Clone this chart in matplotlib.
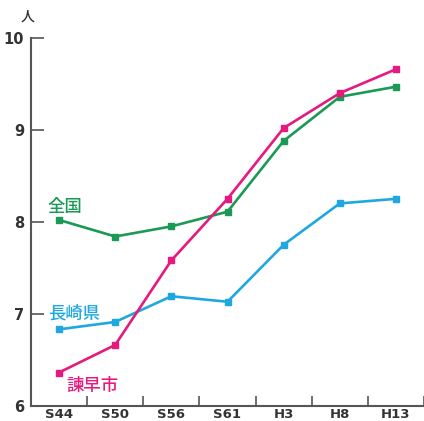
"""
Chart: 人 per household style line chart (全国 / 長崎県 / 諫早市)
"""

###############################################################################
# Libraries
import numpy as np
import matplotlib.pyplot as plt

plt.rcParams['font.family'] = ['Noto Sans CJK JP', 'DejaVu Sans']

####################################
# Data
years = ['S44', 'S50', 'S56', 'S61', 'H3', 'H8', 'H13']
zenkoku = [8.02, 7.84, 7.95, 8.11, 8.88, 9.36, 9.47]
nagasaki = [6.83, 6.91, 7.19, 7.13, 7.75, 8.20, 8.25]
isahaya = [6.36, 6.66, 7.58, 8.25, 9.02, 9.40, 9.66]

####################################
# Colours
c_green = '#1a9a55'
c_blue = '#1fa8e0'
c_pink = '#e5197e'
c_axis = '#555555'

####################################
# Plot
fig = plt.figure(figsize=(4.24, 4.21), dpi=100)
ax = fig.add_axes([31/424, 15.4/421, 393/424, 367.6/421])

x = np.arange(len(years))
ax.plot(x, zenkoku, '-s', color=c_green, lw=1.9, ms=4.5)
ax.plot(x, nagasaki, '-s', color=c_blue, lw=1.9, ms=4.5)
ax.plot(x, isahaya, '-s', color=c_pink, lw=1.9, ms=4.5)

ax.set_xlim(-0.5, len(years) - 0.5)
ax.set_ylim(6, 10)

ax.set_xticks(x)
ax.set_xticklabels(years, fontsize=9.5, fontweight='bold', color='#333333',
                   family='DejaVu Sans')
ax.set_xticks(np.arange(len(years)) + 0.5, minor=True)
ax.tick_params(axis='x', which='major', length=0, pad=2)
ax.tick_params(axis='x', which='minor', direction='in', length=7,
               width=1.2, color=c_axis)

ax.set_yticks([6, 7, 8, 9, 10])
ax.set_yticklabels(['6', '7', '8', '9', '10'], fontsize=10.5,
                   fontweight='bold', color='#333333', family='DejaVu Sans')
ax.tick_params(axis='y', direction='in', length=9, width=1.2,
               color=c_axis, pad=5)

for s in ['top', 'right']:
    ax.spines[s].set_visible(False)
for s in ['left', 'bottom']:
    ax.spines[s].set_color(c_axis)
    ax.spines[s].set_linewidth(1.5)

####################################
# Labels
ax.text(-0.008, 10.23, '人', fontsize=10, ha='center', va='center',
        fontweight='medium', transform=ax.get_yaxis_transform(), color='#333333')
ax.text(-0.2, 8.06, '全国', fontsize=12.5, fontweight='medium', color=c_green,
        va='bottom', ha='left')
ax.text(-0.2, 6.90, '長崎県', fontsize=12.5, fontweight='medium', color=c_blue,
        va='bottom', ha='left')
ax.text(0.13, 6.12, '諫早市', fontsize=12.5, fontweight='medium', color=c_pink,
        va='bottom', ha='left')

plt.savefig('out.png', dpi=100)
plt.close()
